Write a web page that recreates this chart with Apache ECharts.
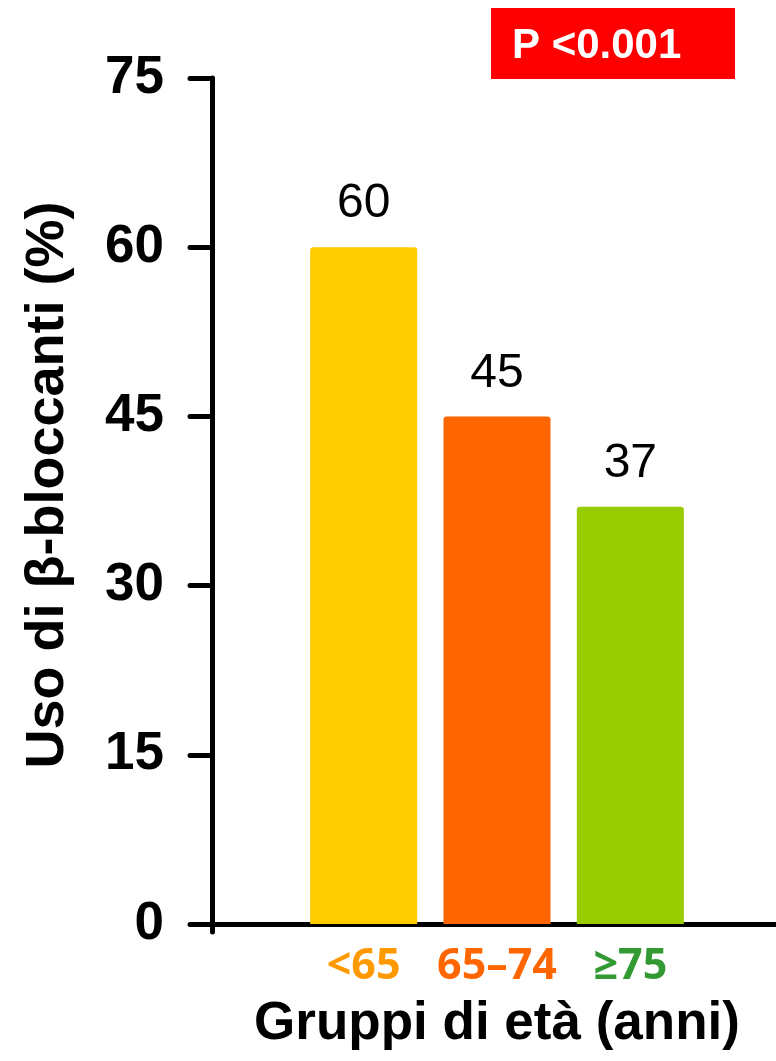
<!DOCTYPE html>
<html>
<head>
<meta charset="utf-8">
<title>Uso di β-bloccanti per gruppi di età</title>
<script src="https://cdn.jsdelivr.net/npm/echarts@6/dist/echarts.min.js"></script>
<style>
  html, body { margin: 0; padding: 0; background: #fff; }
  #chart { width: 776px; height: 1061px; }
</style>
</head>
<body>
<div id="chart"></div>
<script>
// Age groups and share of patients on beta-blockers (%)
const categories = ['<65', '65–74', '≥75'];
const usage = [60, 45, 37];
const barColors = ['#FFCC00', '#FF6600', '#99CC00'];
const labelColors = ['#FF9900', '#FF6600', '#339933'];
const yTicks = { min: 0, max: 75, interval: 15 };
const pValueText = 'P <0.001';
const xTitle = 'Gruppi di età (anni)';
const yTitle = 'Uso di β-bloccanti (%)';

const SANS = "'Liberation Sans', Arial, sans-serif";
const richKeys = ['c0', 'c1', 'c2'];

const chart = echarts.init(document.getElementById('chart'));

const rich = {};
richKeys.forEach((k, i) => {
  rich[k] = {
    color: labelColors[i],
    fontFamily: "'Open Sans', sans-serif",
    fontWeight: 'bold',
    fontSize: 43
  };
});

chart.setOption({
  animation: false,
  backgroundColor: '#fff',
  grid: [
    // frame with the value axis and the baseline
    { left: 212, right: 0, top: 78, bottom: 137 },
    // bars
    { left: 297, right: 79, top: 78, bottom: 137 }
  ],
  xAxis: [
    {
      gridIndex: 0,
      type: 'value',
      min: 0,
      max: 1,
      axisLine: { show: true, lineStyle: { color: '#000', width: 5, cap: 'round' } },
      axisTick: { show: true, customValues: [0], length: 8, lineStyle: { color: '#000', width: 5, cap: 'round' } },
      axisLabel: { show: false },
      splitLine: { show: false }
    },
    {
      gridIndex: 1,
      type: 'category',
      data: categories,
      axisLine: { show: false },
      axisTick: { show: false },
      axisLabel: {
        margin: 21,
        formatter: (v, i) => '{' + richKeys[i] + '|' + v + '}',
        rich: rich
      },
      name: xTitle,
      nameLocation: 'middle',
      nameGap: 74,
      nameTextStyle: { fontFamily: SANS, fontWeight: 'bold', fontSize: 53, color: '#000' }
    }
  ],
  yAxis: [
    {
      gridIndex: 0,
      type: 'value',
      min: yTicks.min,
      max: yTicks.max,
      interval: yTicks.interval,
      axisLine: { show: true, lineStyle: { color: '#000', width: 5, cap: 'round' } },
      axisTick: { show: true, inside: false, length: 22, lineStyle: { color: '#000', width: 5, cap: 'round' } },
      axisLabel: { margin: 48, fontFamily: SANS, fontWeight: 'bold', fontSize: 53, color: '#000' },
      splitLine: { show: false }
    },
    {
      gridIndex: 1,
      type: 'value',
      min: yTicks.min,
      max: yTicks.max,
      interval: yTicks.interval,
      show: false
    }
  ],
  series: [{
    type: 'bar',
    xAxisIndex: 1,
    yAxisIndex: 1,
    barWidth: 107,
    data: usage.map((v, i) => ({ value: v, itemStyle: { color: barColors[i] } })),
    itemStyle: { borderRadius: [3, 3, 0, 0] },
    label: {
      show: true,
      position: 'top',
      distance: 19,
      fontFamily: SANS,
      fontSize: 48,
      color: '#000'
    }
  }],
  graphic: [
    {
      type: 'group',
      left: 491,
      top: 8,
      children: [
        { type: 'rect', shape: { x: 0, y: 0, width: 244, height: 71 }, style: { fill: '#FF0000' } },
        {
          type: 'text', x: 21, y: 38,
          style: { text: pValueText, fill: '#fff', fontFamily: SANS, fontWeight: 'bold', fontSize: 42, verticalAlign: 'middle' }
        }
      ]
    },
    {
      type: 'text',
      x: 48,
      y: 485,
      rotation: Math.PI / 2,
      style: {
        text: yTitle, fill: '#000', fontFamily: SANS, fontWeight: 'bold', fontSize: 54,
        align: 'center', verticalAlign: 'middle'
      }
    }
  ]
});
</script>
</body>
</html>
